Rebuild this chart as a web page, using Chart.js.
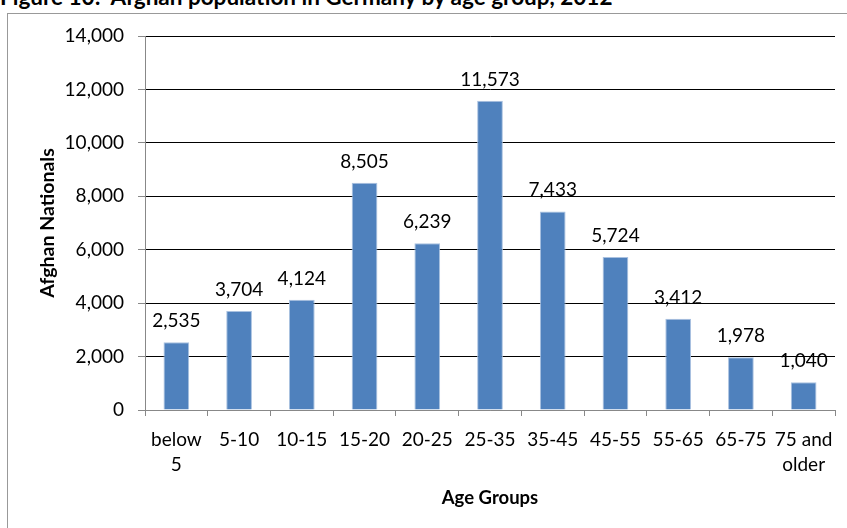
<!DOCTYPE html>
<html>
<head>
<meta charset="utf-8">
<script src="https://cdn.jsdelivr.net/npm/chart.js@4.4.0/dist/chart.umd.min.js"></script>
<style>
    html, body { margin: 0; padding: 0; background: #fff; overflow: hidden; }
    #wrap { position: relative; width: 847px; height: 528px; }
    #titulo {
        position: absolute; left: 0; top: -17px; white-space: nowrap;
        font: bold 22.5px Lato, sans-serif; line-height: 1.2; color: #000;
    }
    #caixa {
        position: absolute; left: 7px; top: 13px; width: 900px; height: 600px;
        border: 1px solid #999; box-sizing: border-box;
    }
    #grafico { position: absolute; left: 0; top: 0; }
</style>
</head>
<body>
<div id="wrap">
    <div id="caixa"></div>
    <div id="titulo">Figure 10:&nbsp; Afghan population in Germany by age group, 2012</div>
    <canvas id="grafico" width="847" height="528"></canvas>
</div>
<script>
const categorias = [['below', '5'], '5-10', '10-15', '15-20', '20-25', '25-35', '35-45', '45-55', '55-65', '65-75', ['75 and', 'older']];
const valores = [2535, 3704, 4124, 8505, 6239, 11573, 7433, 5724, 3412, 1978, 1040];
const ticksY = [0, 2000, 4000, 6000, 8000, 10000, 12000, 14000];

const fonte = 'Lato, sans-serif';
const cinza = '#888888';

function formatar(v) {
    return Number(v).toLocaleString('en-US');
}

// rótulos de valor acima das barras
const rotulosBarras = {
    id: 'rotulosBarras',
    afterDatasetsDraw(chart) {
        const ctx = chart.ctx;
        const meta = chart.getDatasetMeta(0);
        ctx.save();
        ctx.font = '19px ' + fonte;
        ctx.fillStyle = '#000';
        ctx.textAlign = 'center';
        ctx.textBaseline = 'alphabetic';
        meta.data.forEach((bar, i) => {
            ctx.fillText(formatar(valores[i]), bar.x, bar.y - 15);
        });
        ctx.restore();
    }
};

const ctx = document.getElementById('grafico').getContext('2d');
new Chart(ctx, {
    type: 'bar',
    data: {
        labels: categorias,
        datasets: [{
            data: valores,
            backgroundColor: '#4F81BD',
            borderColor: '#a9c1e0',
            borderWidth: 1,
            barPercentage: 0.41,
            categoryPercentage: 1
        }]
    },
    options: {
        responsive: false,
        animation: false,
        layout: { padding: { top: 36, right: 12, left: 0, bottom: 0 } },
        plugins: {
            legend: { display: false },
            tooltip: { enabled: false }
        },
        scales: {
            x: {
                afterFit: s => { s.height = 118; },
                grid: {
                    drawOnChartArea: false,
                    drawTicks: true,
                    tickLength: 6,
                    tickColor: cinza,
                    offset: true
                },
                border: { color: cinza, width: 1 },
                ticks: {
                    color: '#000',
                    padding: 11,
                    maxRotation: 0,
                    autoSkip: false,
                    font: { family: fonte, size: 19, lineHeight: '25px' }
                },
                title: {
                    display: true,
                    text: 'Age Groups',
                    color: '#000',
                    padding: { top: 0, bottom: 19 },
                    font: { family: fonte, size: 18.5, weight: 'bold' }
                }
            },
            y: {
                min: 0,
                max: 14000,
                afterFit: s => { s.width = 145; },
                afterBuildTicks: s => { s.ticks = ticksY.map(v => ({ value: v })); },
                grid: {
                    color: c => (c.tick && c.tick.value === 0 ? cinza : '#000'),
                    tickColor: cinza,
                    tickLength: 7,
                    lineWidth: 1
                },
                border: { color: cinza, width: 1 },
                ticks: {
                    color: '#000',
                    padding: 14,
                    font: { family: fonte, size: 19 },
                    callback: v => formatar(v)
                },
                title: {
                    display: true,
                    text: 'Afghan Nationals',
                    color: '#000',
                    padding: { top: 36, bottom: 0 },
                    font: { family: fonte, size: 19.5, weight: 'bold' }
                }
            }
        }
    },
    plugins: [rotulosBarras]
});
</script>
</body>
</html>
